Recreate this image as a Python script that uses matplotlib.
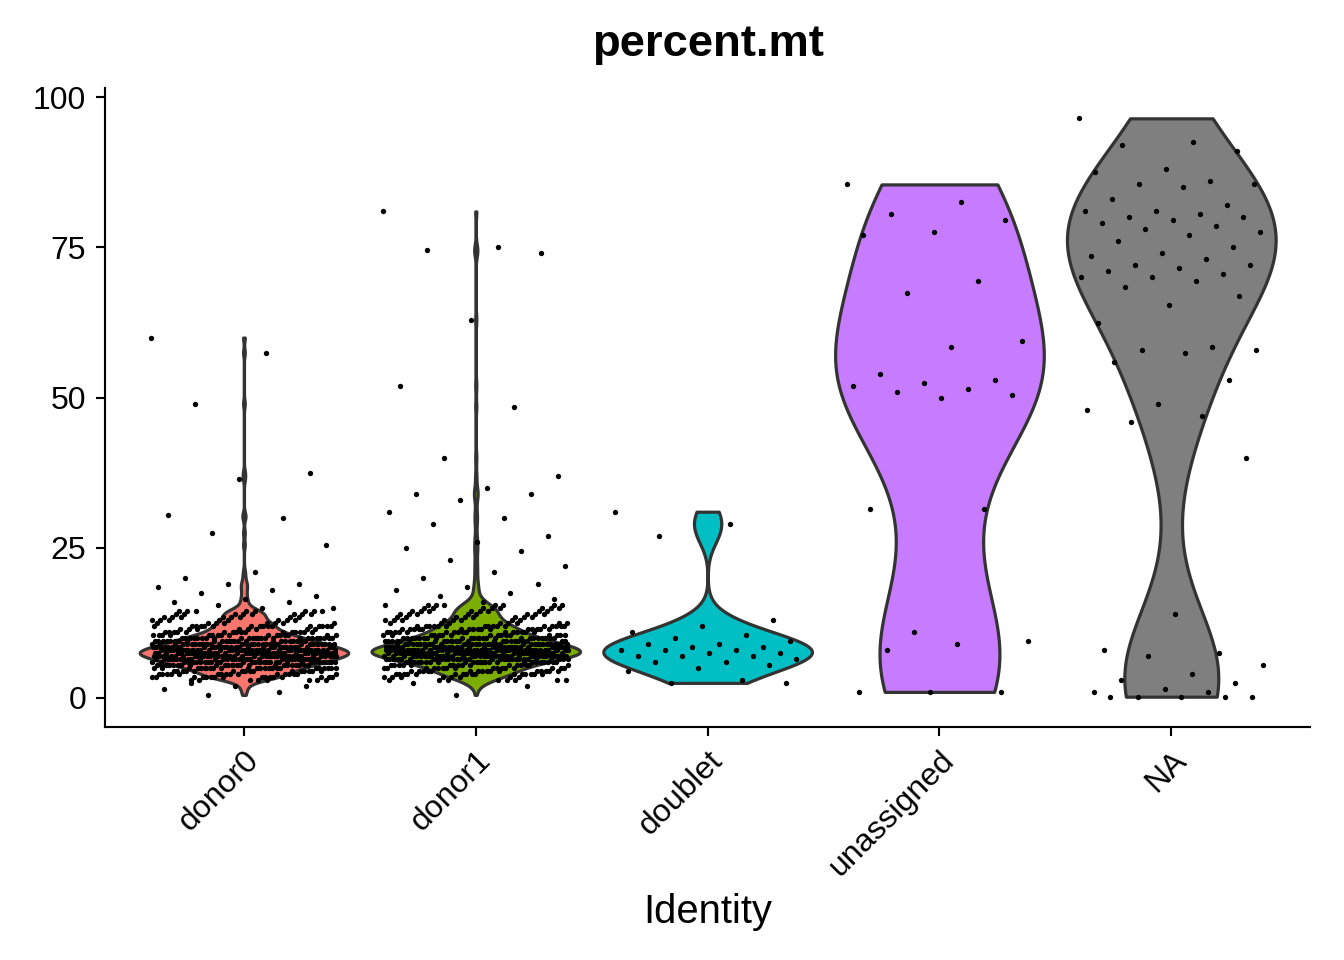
import matplotlib
matplotlib.use("Agg")
import numpy as np
import matplotlib.pyplot as plt

plt.rcParams["font.family"] = ["Liberation Sans", "DejaVu Sans"]

# -------------------------------
# DATA
# -------------------------------
identities = ["donor0", "donor1", "doublet", "unassigned", "NA"]
colors = ["#F8766D", "#7CAE00", "#00BFC4", "#C77CFF", "#7F7F7F"]

donor0_tail = [60, 57.5, 49, 37.5, 36.5, 30.5, 30, 27.5, 25.5, 21, 20, 19, 19, 18.5, 18, 17.5,
               17, 16.5, 16, 16, 15.5, 15, 15, 2.5, 2, 2, 1.5, 1, 0.5]
donor0_bulk = [14.5, 14, 13.5, 13, 12.5, 12, 12, 11.5, 11, 11, 10.5, 10.5, 10, 10, 10, 9.5,
               9.5, 9.5, 9, 9, 9, 9, 8.5, 8.5, 8.5, 8.5, 8, 8, 8, 8, 8, 7.5, 7.5, 7.5, 7.5, 7.5,
               7, 7, 7, 7, 7, 6.5, 6.5, 6.5, 6.5, 6, 6, 6, 6, 5.5, 5.5, 5.5, 5, 5, 5, 4.5, 4.5,
               4, 4, 3.5, 3.5, 3]
donor1_tail = [81, 75, 74.5, 74, 63, 52, 48.5, 40, 37, 35, 34, 34, 33, 31, 30, 29, 27, 26, 25,
               24.5, 23, 22, 21, 20, 19, 18.5, 18, 17.5, 17, 16.5, 16, 2.5, 2, 0.5]
donor1_bulk = [15.5, 15, 14.5, 14, 13.5, 13, 12.5, 12, 12, 11.5, 11.5, 11, 11, 10.5, 10.5,
               10, 10, 10, 9.5, 9.5, 9.5, 9, 9, 9, 9, 8.5, 8.5, 8.5, 8.5, 8, 8, 8, 8, 8, 8,
               7.5, 7.5, 7.5, 7.5, 7.5, 7, 7, 7, 7, 7, 6.5, 6.5, 6.5, 6.5, 6, 6, 6, 5.5, 5.5,
               5, 5, 4.5, 4.5, 4, 4, 3.5, 3]
doublet = [31, 29, 27, 13, 12, 11, 10.5, 10, 9.5, 9, 9, 8.5, 8.5, 8, 8, 8, 7.5, 7.5, 7, 7, 7,
           6.5, 6, 6, 5.5, 5, 4.5, 3, 2.5, 2.5]
unassigned = [85.5, 82.5, 80.5, 79.5, 77.5, 77, 69.5, 67.5, 59.5, 58.5, 54, 53, 52.5, 52,
              51.5, 51, 50.5, 50, 31.5, 31.5, 11, 9.5, 9, 8, 1, 1, 1]
na = [96.5, 92.5, 92, 91, 88, 87.5, 86, 85.5, 85.5, 85, 83, 82, 81, 81, 80.5, 80, 80, 79.5,
      79, 78.5, 78, 77.5, 77, 76, 75, 74, 73.5, 73, 72, 72, 71.5, 71, 70.5, 70, 70, 69.5,
      68.5, 67, 65.5, 62.5, 58.5, 58, 58, 57.5, 56, 53, 49, 48, 47, 46, 40, 14, 8, 7.5, 7,
      5.5, 4, 3, 2.5, 1.5, 1, 1, 0.2, 0.2, 0.2, 0.2, 0.2]

# the bulk of each donor is much denser than the tails: repeat it
donor0 = donor0_tail + donor0_bulk * 8
donor1 = donor1_tail + donor1_bulk * 8
groups = [donor0, donor1, doublet, unassigned, na]
bw = [0.12, 0.12, 0.35, 0.45, 0.35]

fig = plt.figure(figsize=(7, 5), dpi=192)
ax = fig.add_axes([0.078, 0.243, 0.897, 0.665])

for i, (vals, c) in enumerate(zip(groups, colors)):
    parts = ax.violinplot([vals], positions=[i], widths=0.9, showextrema=False,
                          bw_method=bw[i], points=400)
    for b in parts["bodies"]:
        b.set_facecolor(c)
        b.set_edgecolor("#333333")
        b.set_linewidth(1.2)
        b.set_alpha(1)
    n = len(vals)
    offs = (((np.arange(n) * 0.6180339) % 1.0) - 0.5) * 0.8
    ax.scatter(i + offs, vals, s=4, color="black", zorder=3, linewidths=0)

ax.set_xlim(-0.6, 4.6)
ax.set_ylim(-4.8, 101.5)
ax.set_yticks([0, 25, 50, 75, 100])
ax.set_xticks(range(len(identities)))
ax.set_xticklabels(identities, rotation=45, ha="right", rotation_mode="anchor", fontsize=12)
ax.tick_params(axis="y", labelsize=12)
ax.spines["top"].set_visible(False)
ax.spines["right"].set_visible(False)
ax.set_xlabel("Identity", fontsize=15)
fig.suptitle("percent.mt", fontsize=17, fontweight="bold", x=0.527, y=0.975)

fig.savefig("out.png", dpi=192)
